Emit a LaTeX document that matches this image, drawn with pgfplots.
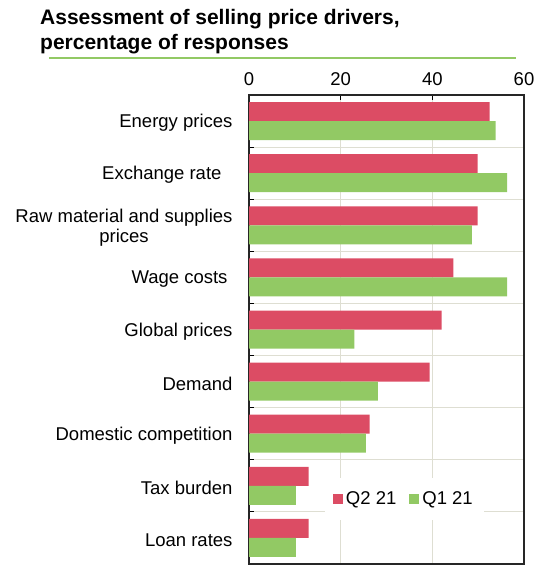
\documentclass[border=0pt]{standalone}
\usepackage{pgfplots}
\pgfplotsset{compat=1.18}
\usepackage{fontspec}
\setmainfont{Liberation Sans}

\definecolor{barred}{RGB}{220,76,100}
\definecolor{bargreen}{RGB}{146,201,100}
\definecolor{gridc}{RGB}{222,222,210}

\begin{document}
\begin{tikzpicture}
\begin{axis}[
    scale only axis,
    width=275pt, height=469pt,
    xbar, bar width=19pt,
    xmin=0, xmax=60,
    ymin=-0.5, ymax=8.5,
    y dir=reverse,
    xtick={0,20,40,60},
    xtick pos=right, xticklabel pos=right,
    ytick={0,...,8},
    yticklabels={Energy prices, Exchange rate\hspace*{11pt}, Raw material and supplies\\prices, Wage costs\hspace*{5pt}, Global prices, Demand, Domestic competition, Tax burden, Loan rates},
    ytick pos=left,
    minor ytick={0.5,1.5,...,7.5},
    major y tick style={draw=none},
    yminorgrids=true, xmajorgrids=true,
    tick align=inside,
    major tick length=5pt, minor tick length=5pt,
    grid style={draw=gridc, line width=1pt},
    minor grid style={draw=gridc, line width=1pt},
    axis line style={black!85, line width=1.2pt},
    tick style={black, line width=1pt},
    /pgf/number format/assume math mode=true,
    yticklabel style={align=center, font=\fontsize{18.5}{20}\selectfont, xshift=-13pt, yshift=-2pt},
    xticklabel style={font=\fontsize{18.5}{20}\selectfont, yshift=6pt},
    legend style={at={(axis cs:33.9,7.25)}, anchor=center, draw=none, fill=white,
        font=\fontsize{18.5}{20}\selectfont, inner xsep=8pt, inner ysep=12pt,
        legend columns=2,
        /tikz/every even column/.append style={column sep=10pt},
        nodes={inner xsep=3pt}},
    legend image code/.code={\fill[#1] (0pt,-5pt) rectangle (10pt,5pt);},
]
\addplot[fill=barred, draw=none, bar shift=9.5pt] coordinates {
    (52.5,0) (49.9,1) (49.9,2) (44.6,3) (42.0,4) (39.4,5) (26.3,6) (13.0,7) (13.0,8)
};
\addplot[fill=bargreen, draw=none, bar shift=-9.5pt] coordinates {
    (53.8,0) (56.3,1) (48.6,2) (56.3,3) (23.0,4) (28.1,5) (25.5,6) (10.2,7) (10.2,8)
};
\legend{Q2 21, Q1 21}
\end{axis}
\node[anchor=base west, inner sep=0pt, font=\fontsize{21}{25}\selectfont\bfseries] at ([xshift=-209pt, yshift=70pt]current axis.north west) {Assessment of selling price drivers,};
\node[anchor=base west, inner sep=0pt, font=\fontsize{21}{25}\selectfont\bfseries] at ([xshift=-209pt, yshift=45pt]current axis.north west) {percentage of responses};
\draw[bargreen, line width=2pt] ([xshift=-200pt, yshift=37pt]current axis.north west) -- ([xshift=267pt, yshift=37pt]current axis.north west);
\path ([xshift=-249pt, yshift=95pt]current axis.north west) rectangle ([xshift=11pt, yshift=-1pt]current axis.south east);
\end{tikzpicture}
\end{document}
